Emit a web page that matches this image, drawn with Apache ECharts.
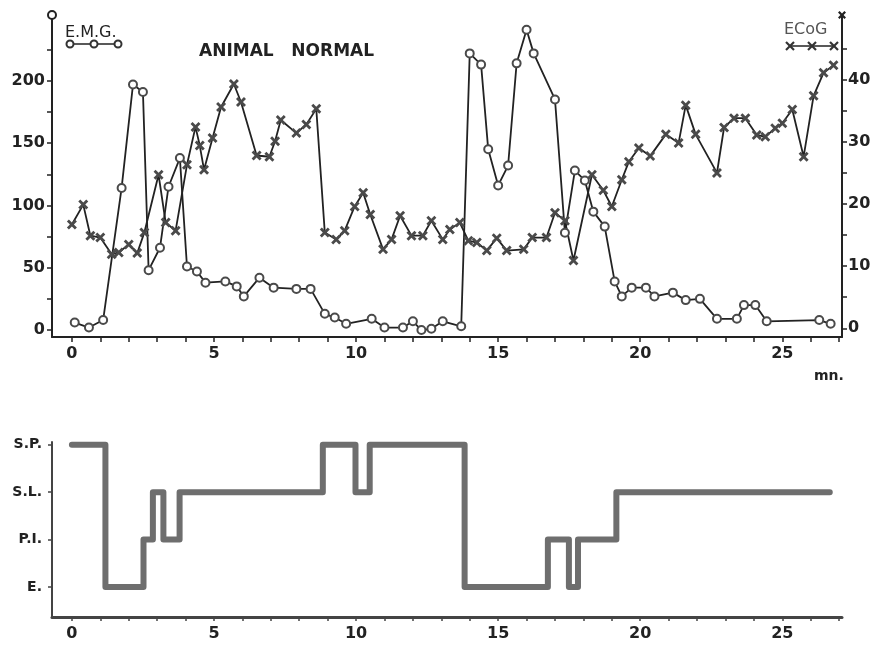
<!DOCTYPE html>
<html>
<head>
<meta charset="utf-8">
<script src="https://cdn.jsdelivr.net/npm/echarts@6/dist/echarts.min.js"></script>
<style>
  html, body { margin: 0; padding: 0; background: #fff; }
  #chart { width: 876px; height: 650px; }
</style>
</head>
<body>
<div id="chart"></div>
<script>
// E.M.G. (left axis), time in minutes
var emgTime = [0.1, 0.6, 1.1, 1.75, 2.15, 2.5, 2.7, 3.1, 3.4, 3.8, 4.05, 4.4, 4.7, 5.4, 5.8, 6.05, 6.6, 7.1, 7.9, 8.4,
  8.9, 9.25, 9.65, 10.55, 11.0, 11.65, 12.0, 12.3, 12.65, 13.05, 13.7, 14.0, 14.4, 14.65, 15.0, 15.35, 15.65, 16.0,
  16.25, 17.0, 17.35, 17.7, 18.05, 18.35, 18.75, 19.1, 19.35, 19.7, 20.2, 20.5, 21.15, 21.6, 22.1, 22.7, 23.4,
  23.65, 24.05, 24.45, 26.3, 26.7];
var emgValue = [6, 2, 8, 114, 197, 191, 48, 66, 115, 138, 51, 47, 38, 39, 35, 27, 42, 34, 33, 33,
  13, 10, 5, 9, 2, 2, 7, 0, 1, 7, 3, 222, 213, 145, 116, 132, 214, 241,
  222, 185, 78, 128, 120, 95, 83, 39, 27, 34, 34, 27, 30, 24, 25, 9, 9,
  20, 20, 7, 8, 5];

// ECoG (right axis)
var ecogTime = [0.0, 0.4, 0.65, 1.0, 1.4, 1.65, 2.0, 2.3, 2.55, 3.05, 3.3, 3.65, 4.05, 4.35, 4.5, 4.65, 4.95, 5.25, 5.7,
  5.95, 6.5, 6.95, 7.15, 7.35, 7.9, 8.25, 8.6, 8.9, 9.3, 9.6, 9.95, 10.25, 10.5, 10.95, 11.25, 11.55, 11.95, 12.35,
  12.65, 13.05, 13.3, 13.65, 13.95, 14.25, 14.6, 14.95, 15.3, 15.9, 16.2, 16.7, 17.0, 17.35, 17.65, 18.3, 18.7,
  19.0, 19.35, 19.6, 19.95, 20.35, 20.9, 21.35, 21.6, 21.95, 22.7, 22.95, 23.3, 23.7, 24.1, 24.4, 24.75, 25.0,
  25.35, 25.75, 26.1, 26.45, 26.8];
var ecogValue = [16.7, 19.9, 14.9, 14.6, 11.9, 12.2, 13.5, 12.1, 15.4, 24.7, 17.0, 15.7, 26.3, 32.4, 29.4, 25.5, 30.6, 35.6, 39.3,
  36.4, 27.8, 27.6, 30.1, 33.5, 31.4, 32.8, 35.3, 15.4, 14.3, 15.7, 19.6, 21.8, 18.3, 12.7, 14.3, 18.1, 14.9, 14.9,
  17.3, 14.3, 15.9, 17.0, 14.1, 13.8, 12.5, 14.5, 12.5, 12.7, 14.6, 14.6, 18.6, 17.3, 10.9, 24.7, 22.2,
  19.6, 23.9, 26.8, 29.0, 27.7, 31.2, 29.8, 35.9, 31.2, 25.0, 32.3, 33.8, 33.8, 31.1, 30.8, 32.2, 33.0,
  35.2, 27.6, 37.4, 41.1, 42.3];

// sleep stage hypnogram: time of change and new level
var stageTime = [0, 1.18, 2.52, 2.85, 3.22, 3.79, 8.83, 9.98, 10.48, 13.82, 16.75, 17.49, 17.81, 19.16, 26.67];
var stageLevel = [4, 1, 2, 3, 2, 3, 4, 3, 4, 1, 2, 1, 2, 3, 3];
var stageNames = { 1: 'E.', 2: 'P.I.', 3: 'S.L.', 4: 'S.P.' };

var minuteTicks = [];
for (var m = 0; m <= 27; m++) minuteTicks.push(m);
var minuteLabels = [0, 5, 10, 15, 20, 25];

function pairs(xs, ys) {
  return xs.map(function (x, i) { return [x, ys[i]]; });
}

var crossPath = 'path://M0,2L2,0L5,3L8,0L10,2L7,5L10,8L8,10L5,7L2,10L0,8L3,5Z';
var ink = '#222';
var labelStyle = { color: '#222', fontSize: 16, fontWeight: 'bold', fontFamily: 'DejaVu Sans' };

// little legend samples drawn as decoration
var legendBits = [
  { type: 'text', left: 65, top: 25, style: { text: 'E.M.G.', fill: '#222', font: '16px "DejaVu Sans"' } },
  { type: 'line', shape: { x1: 70, y1: 44, x2: 118, y2: 44 }, style: { stroke: '#222', lineWidth: 1.6 } },
  { type: 'text', left: 784, top: 22, style: { text: 'ECoG', fill: '#555', font: '16px "DejaVu Sans"' } },
  { type: 'line', shape: { x1: 790, y1: 46, x2: 834, y2: 46 }, style: { stroke: '#222', lineWidth: 1.6 } },
  { type: 'text', left: 814, top: 369, style: { text: 'mn.', fill: '#222', font: 'bold 14px "DejaVu Sans"' } }
];
[70, 94, 118].forEach(function (cx) {
  legendBits.push({ type: 'circle', shape: { cx: cx, cy: 44, r: 3.5 }, style: { fill: '#fff', stroke: '#333', lineWidth: 2 } });
});
[790, 812, 834].forEach(function (cx) {
  legendBits.push({ type: 'line', shape: { x1: cx - 4, y1: 42, x2: cx + 4, y2: 50 }, style: { stroke: '#333', lineWidth: 2.2 } });
  legendBits.push({ type: 'line', shape: { x1: cx - 4, y1: 50, x2: cx + 4, y2: 42 }, style: { stroke: '#333', lineWidth: 2.2 } });
});

var chart = echarts.init(document.getElementById('chart'));
chart.setOption({
  backgroundColor: '#fff',
  animation: false,
  title: {
    text: 'ANIMAL   NORMAL',
    left: 194, top: 38,
    textStyle: { color: '#222', fontSize: 17, fontWeight: 'bold', fontFamily: 'DejaVu Sans' }
  },
  grid: [
    { left: 52, width: 790, top: 15, height: 322 },
    { left: 52, width: 790, top: 442, height: 175 }
  ],
  xAxis: [{
    type: 'value', gridIndex: 0, min: -0.7, max: 27.1,
    splitLine: { show: false },
    axisLine: { onZero: false, lineStyle: { color: ink, width: 2 } },
    axisTick: { customValues: minuteTicks, length: 5, lineStyle: { color: ink, width: 1.5 } },
    axisLabel: { customValues: minuteLabels, margin: 9, ...labelStyle }
  }, {
    type: 'value', gridIndex: 1, min: -0.7, max: 27.1,
    splitLine: { show: false },
    axisLine: { onZero: false, lineStyle: { color: '#444', width: 3 } },
    axisTick: { customValues: minuteTicks, length: 4, lineStyle: { color: '#444', width: 1.5 } },
    axisLabel: { customValues: minuteLabels, margin: 9, ...labelStyle }
  }],
  yAxis: [{
    type: 'value', gridIndex: 0, min: -5.6, max: 252.8,
    splitLine: { show: false },
    axisLine: { show: true, onZero: false, symbol: ['none', 'emptyCircle'], symbolSize: [8, 8], lineStyle: { color: ink, width: 2 } },
    axisTick: { show: true, customValues: [0, 25, 50, 75, 100, 125, 150, 175, 200, 225], length: 5, lineStyle: { color: ink, width: 1.5 } },
    axisLabel: { customValues: [0, 50, 100, 150, 200], margin: 7, ...labelStyle }
  }, {
    type: 'value', gridIndex: 0, position: 'right', min: -1.4, max: 50.4,
    splitLine: { show: false },
    axisLine: { show: true, onZero: false, symbol: ['none', crossPath], symbolSize: [8, 8], lineStyle: { color: ink, width: 2 } },
    axisTick: { show: true, customValues: [0, 5, 10, 15, 20, 25, 30, 35, 40, 45], length: 5, lineStyle: { color: ink, width: 1.5 } },
    axisLabel: { customValues: [0, 10, 20, 30, 40], margin: 6, ...labelStyle }
  }, {
    type: 'value', gridIndex: 1, min: 0.366, max: 4.06,
    splitLine: { show: false },
    axisLine: { show: true, onZero: false, lineStyle: { color: '#444', width: 2 } },
    axisTick: { show: true, customValues: [1, 2, 3, 4], length: 4, lineStyle: { color: '#444', width: 1.5 } },
    axisLabel: {
      customValues: [1, 2, 3, 4], margin: 10, ...labelStyle, fontSize: 14,
      formatter: function (v) { return stageNames[v] || ''; }
    }
  }],
  series: [{
    name: 'ECoG', type: 'line', xAxisIndex: 0, yAxisIndex: 1,
    data: pairs(ecogTime, ecogValue),
    symbol: crossPath, symbolSize: 10,
    lineStyle: { color: ink, width: 1.8 },
    itemStyle: { color: '#4a4a4a' }
  }, {
    name: 'E.M.G.', type: 'line', xAxisIndex: 0, yAxisIndex: 0,
    data: pairs(emgTime, emgValue),
    symbol: 'circle', symbolSize: 8,
    lineStyle: { color: ink, width: 1.8 },
    itemStyle: { color: '#fff', borderColor: '#4a4a4a', borderWidth: 2 }
  }, {
    name: 'stade', type: 'line', xAxisIndex: 1, yAxisIndex: 2,
    data: pairs(stageTime, stageLevel),
    step: 'end', symbol: 'none',
    lineStyle: { color: '#6e6e6e', width: 6, cap: 'round', join: 'round' }
  }],
  graphic: legendBits
});
</script>
</body>
</html>
